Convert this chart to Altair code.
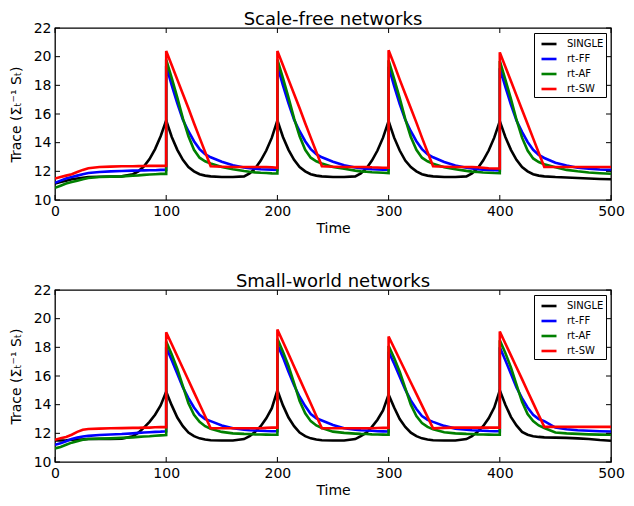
import altair as alt
import pandas as pd

# ---------------- data ----------------
TIME = [0, 5, 10, 15, 20, 25, 30, 40, 50, 60, 70, 75, 80, 85, 90, 95,
        100, 100, 105, 110, 115, 120, 125, 130, 135, 140, 150, 160, 170, 175, 180, 185, 190, 195,
        200, 200, 205, 210, 215, 220, 225, 230, 235, 240, 250, 260, 270, 275, 280, 285, 290, 295,
        300, 300, 305, 310, 315, 320, 325, 330, 335, 340, 350, 360, 370, 375, 380, 385, 390, 395,
        400, 400, 405, 410, 415, 420, 425, 430, 435, 440, 450, 460, 470, 480, 490, 500]

SERIES = ["SINGLE", "rt-FF", "rt-AF", "rt-SW"]
COLORS = ["#000000", "#0000ff", "#008000", "#ff0000"]

# Scale-free networks
SF_SINGLE = [11.15, 11.25, 11.35, 11.45, 11.5, 11.55, 11.6, 11.62, 11.63, 11.65, 11.8, 12.0, 12.35, 12.85, 13.55, 14.45,
             15.55, 15.55, 14.4, 13.5, 12.8, 12.3, 12.0, 11.8, 11.7, 11.65, 11.6, 11.6, 11.65, 11.85, 12.2, 12.75, 13.45, 14.35,
             15.55, 15.55, 14.4, 13.5, 12.8, 12.3, 12.0, 11.8, 11.7, 11.65, 11.6, 11.6, 11.65, 11.85, 12.2, 12.75, 13.45, 14.35,
             15.5, 15.5, 14.35, 13.45, 12.75, 12.3, 12.0, 11.8, 11.7, 11.65, 11.6, 11.6, 11.65, 11.85, 12.2, 12.75, 13.45, 14.35,
             15.5, 15.5, 14.4, 13.5, 12.8, 12.3, 12.0, 11.8, 11.7, 11.65, 11.6, 11.57, 11.53, 11.5, 11.47, 11.45]
SF_FF = [11.2, 11.35, 11.5, 11.6, 11.7, 11.8, 11.88, 11.95, 12.0, 12.02, 12.05, 12.06, 12.07, 12.08, 12.08, 12.1,
         12.1, 19.35, 18.0, 16.75, 15.6, 14.8, 14.1, 13.55, 13.2, 12.98, 12.67, 12.42, 12.27, 12.22, 12.18, 12.15, 12.13, 12.12,
         12.1, 19.35, 18.0, 16.75, 15.6, 14.8, 14.1, 13.55, 13.2, 12.98, 12.67, 12.42, 12.27, 12.22, 12.18, 12.15, 12.13, 12.12,
         12.12, 19.3, 17.95, 16.7, 15.6, 14.8, 14.1, 13.55, 13.2, 12.98, 12.65, 12.4, 12.25, 12.2, 12.15, 12.12, 12.1, 12.08,
         12.06, 19.2, 17.9, 16.65, 15.55, 14.75, 14.05, 13.5, 13.15, 12.93, 12.6, 12.4, 12.25, 12.18, 12.13, 12.1]
SF_AF = [10.85, 11.0, 11.15, 11.25, 11.35, 11.45, 11.53, 11.6, 11.63, 11.65, 11.7, 11.72, 11.75, 11.78, 11.8, 11.82,
         11.82, 19.8, 18.5, 17.15, 15.7, 14.45, 13.5, 12.95, 12.7, 12.55, 12.3, 12.15, 12.02, 11.97, 11.93, 11.9, 11.88, 11.86,
         11.85, 19.8, 18.5, 17.15, 15.7, 14.45, 13.5, 12.95, 12.7, 12.55, 12.3, 12.18, 12.05, 12.0, 11.97, 11.94, 11.92, 11.9,
         11.88, 19.75, 18.45, 17.1, 15.65, 14.4, 13.5, 12.95, 12.7, 12.53, 12.28, 12.15, 12.03, 11.98, 11.95, 11.92, 11.9, 11.88,
         11.87, 19.7, 18.4, 17.05, 15.6, 14.35, 13.45, 12.9, 12.65, 12.5, 12.28, 12.1, 12.0, 11.92, 11.87, 11.83]
SF_SW = [11.5, 11.6, 11.7, 11.8, 11.95, 12.1, 12.22, 12.3, 12.33, 12.35, 12.35, 12.36, 12.37, 12.38, 12.38, 12.38,
         12.38, 20.4, 19.4, 18.4, 17.4, 16.4, 15.35, 14.35, 13.35, 12.35, 12.32, 12.3, 12.3, 12.3, 12.3, 12.3, 12.3, 12.28,
         12.25, 20.4, 19.4, 18.4, 17.4, 16.4, 15.35, 14.35, 13.35, 12.35, 12.32, 12.3, 12.3, 12.3, 12.3, 12.28, 12.27, 12.25,
         12.25, 20.45, 19.45, 18.4, 17.4, 16.4, 15.4, 14.35, 13.35, 12.35, 12.32, 12.3, 12.3, 12.3, 12.28, 12.25, 12.22, 12.2,
         12.2, 20.3, 19.3, 18.3, 17.3, 16.3, 15.3, 14.3, 13.3, 12.3, 12.3, 12.3, 12.3, 12.3, 12.3, 12.3]

# Small-world networks
SW_SINGLE = [11.5, 11.5, 11.52, 11.55, 11.57, 11.58, 11.6, 11.6, 11.6, 11.62, 11.8, 12.05, 12.4, 12.8, 13.3, 13.95,
             14.9, 14.9, 13.95, 13.1, 12.5, 12.05, 11.8, 11.65, 11.57, 11.52, 11.5, 11.5, 11.6, 11.8, 12.1, 12.5, 13.05, 13.75,
             15.0, 15.0, 13.95, 13.1, 12.5, 12.05, 11.8, 11.65, 11.57, 11.52, 11.5, 11.5, 11.6, 11.8, 12.05, 12.45, 12.95, 13.6,
             14.7, 14.7, 13.8, 13.0, 12.45, 12.05, 11.8, 11.65, 11.57, 11.52, 11.5, 11.5, 11.6, 11.8, 12.1, 12.5, 13.05, 13.8,
             15.0, 15.0, 14.0, 13.15, 12.55, 12.1, 11.9, 11.8, 11.75, 11.72, 11.7, 11.68, 11.65, 11.6, 11.53, 11.48]
SW_FF = [11.2, 11.3, 11.45, 11.6, 11.7, 11.78, 11.82, 11.88, 11.92, 11.95, 12.0, 12.03, 12.06, 12.08, 12.1, 12.12,
         12.15, 18.0, 17.1, 16.15, 15.2, 14.45, 13.8, 13.3, 13.0, 12.85, 12.55, 12.35, 12.25, 12.22, 12.2, 12.18, 12.16, 12.15,
         12.15, 18.2, 17.3, 16.3, 15.35, 14.55, 13.9, 13.35, 13.05, 12.9, 12.58, 12.35, 12.25, 12.22, 12.2, 12.18, 12.15, 12.14,
         12.13, 17.7, 16.85, 15.95, 15.05, 14.3, 13.7, 13.2, 12.95, 12.8, 12.52, 12.33, 12.25, 12.22, 12.2, 12.18, 12.16, 12.15,
         12.15, 18.0, 17.1, 16.15, 15.2, 14.45, 13.8, 13.3, 13.0, 12.85, 12.4, 12.28, 12.22, 12.18, 12.15, 12.13]
SW_AF = [10.95, 11.05, 11.2, 11.35, 11.45, 11.55, 11.6, 11.63, 11.65, 11.68, 11.72, 11.75, 11.78, 11.8, 11.83, 11.86,
         11.88, 18.4, 17.5, 16.5, 15.3, 14.1, 13.3, 12.8, 12.5, 12.32, 12.1, 12.0, 11.96, 11.95, 11.93, 11.92, 11.91, 11.9,
         11.9, 18.6, 17.7, 16.7, 15.5, 14.25, 13.4, 12.85, 12.55, 12.37, 12.12, 12.03, 11.98, 11.96, 11.95, 11.93, 11.92, 11.91,
         11.9, 18.1, 17.25, 16.3, 15.15, 14.0, 13.2, 12.72, 12.45, 12.28, 12.08, 12.0, 11.96, 11.95, 11.93, 11.92, 11.91, 11.9,
         11.9, 18.5, 17.6, 16.6, 15.4, 14.2, 13.35, 12.85, 12.55, 12.37, 12.06, 12.0, 11.96, 11.93, 11.91, 11.9]
SW_SW = [11.55, 11.65, 11.75, 11.9, 12.1, 12.25, 12.3, 12.33, 12.35, 12.36, 12.38, 12.38, 12.4, 12.4, 12.42, 12.43,
         12.43, 19.05, 18.21, 17.38, 16.54, 15.7, 14.86, 14.03, 13.19, 12.35, 12.35, 12.35, 12.35, 12.35, 12.35, 12.35, 12.38, 12.4,
         12.4, 19.25, 18.39, 17.53, 16.66, 15.8, 14.94, 14.08, 13.21, 12.35, 12.35, 12.35, 12.35, 12.35, 12.35, 12.35, 12.37, 12.38,
         12.38, 18.75, 17.95, 17.15, 16.35, 15.55, 14.75, 13.95, 13.15, 12.35, 12.38, 12.4, 12.4, 12.4, 12.4, 12.4, 12.4, 12.4,
         12.4, 19.1, 18.27, 17.44, 16.61, 15.78, 14.94, 14.11, 13.28, 12.45, 12.45, 12.45, 12.45, 12.45, 12.45, 12.45]

X_TICKS = [0, 100, 200, 300, 400, 500]
Y_TICKS = [10, 12, 14, 16, 18, 20, 22]

W, H = 556, 172
FONT = "DejaVu Sans"


def long_frame(values_by_series):
    rows = []
    for name, vals in zip(SERIES, values_by_series):
        for i, (t, v) in enumerate(zip(TIME, vals)):
            rows.append({"series": name, "i": i, "t": t, "v": v})
    return pd.DataFrame(rows)


XAXIS = alt.Axis(values=X_TICKS, ticks=False, tickSize=0, domain=False, grid=False,
                 labelFont=FONT, labelFontSize=14, labelColor="black", labelPadding=4,
                 labelFlush=False, title="Time", titleFont=FONT, titleFontSize=14,
                 titleFontWeight="normal", titleColor="black", titlePadding=3)
YAXIS = alt.Axis(values=Y_TICKS, ticks=False, tickSize=0, domain=False, grid=False,
                 labelFont=FONT, labelFontSize=14, labelColor="black", labelPadding=4,
                 labelFlush=False, title="Trace (Σₜ⁻¹ Sₜ)", titleFont=FONT,
                 titleFontSize=14, titleFontWeight="normal", titleColor="black",
                 titlePadding=10)


def panel(title, values_by_series):
    df = long_frame(values_by_series)
    xscale = alt.Scale(domain=[0, 500], nice=False, zero=False)
    yscale = alt.Scale(domain=[10, 22], nice=False, zero=False)
    lines = alt.Chart(df).mark_line(strokeWidth=2.6, strokeJoin="miter", clip=True).encode(
        x=alt.X("t:Q", scale=xscale, axis=XAXIS),
        y=alt.Y("v:Q", scale=yscale, axis=YAXIS),
        color=alt.Color("series:N", sort=SERIES,
                        scale=alt.Scale(domain=SERIES, range=COLORS),
                        legend=alt.Legend(title=None, orient="top-right", offset=5,
                                          symbolType="stroke", symbolSize=225, symbolStrokeWidth=2.6,
                                          labelFont=FONT, labelFontSize=10, labelColor="black",
                                          labelOffset=9, rowPadding=0, padding=2, symbolOffset=4,
                                          strokeColor="black", fillColor="white", cornerRadius=0)),
        order=alt.Order("i:Q"),
    )
    xt = pd.DataFrame({"t": X_TICKS})
    yt = pd.DataFrame({"v": Y_TICKS})
    tick_x_bottom = alt.Chart(xt).mark_rule(color="black", strokeWidth=1).encode(
        x=alt.X("t:Q", scale=xscale, axis=XAXIS), y=alt.value(H), y2=alt.value(H - 5))
    tick_x_top = alt.Chart(xt).mark_rule(color="black", strokeWidth=1).encode(
        x=alt.X("t:Q", scale=xscale, axis=XAXIS), y=alt.value(0), y2=alt.value(5))
    tick_y_left = alt.Chart(yt).mark_rule(color="black", strokeWidth=1).encode(
        y=alt.Y("v:Q", scale=yscale, axis=YAXIS), x=alt.value(0), x2=alt.value(5))
    tick_y_right = alt.Chart(yt).mark_rule(color="black", strokeWidth=1).encode(
        y=alt.Y("v:Q", scale=yscale, axis=YAXIS), x=alt.value(W - 5), x2=alt.value(W))
    return alt.layer(lines, tick_x_bottom, tick_x_top, tick_y_left, tick_y_right).properties(
        width=W, height=H,
        title=alt.TitleParams(title, font=FONT, fontSize=18, fontWeight="normal", color="black",
                              anchor="middle", offset=-8),
    )


top = panel("Scale-free networks", [SF_SINGLE, SF_FF, SF_AF, SF_SW])
bottom = panel("Small-world networks", [SW_SINGLE, SW_FF, SW_AF, SW_SW])

chart = alt.vconcat(top, bottom, spacing=36).resolve_scale(color="independent").resolve_legend(
    color="independent").properties(
    padding={"left": 0, "top": 2, "right": 0, "bottom": 0}
).configure_view(stroke="black", strokeWidth=1.3)

chart.save("out.html", embed_options={"renderer": "svg", "actions": False})
